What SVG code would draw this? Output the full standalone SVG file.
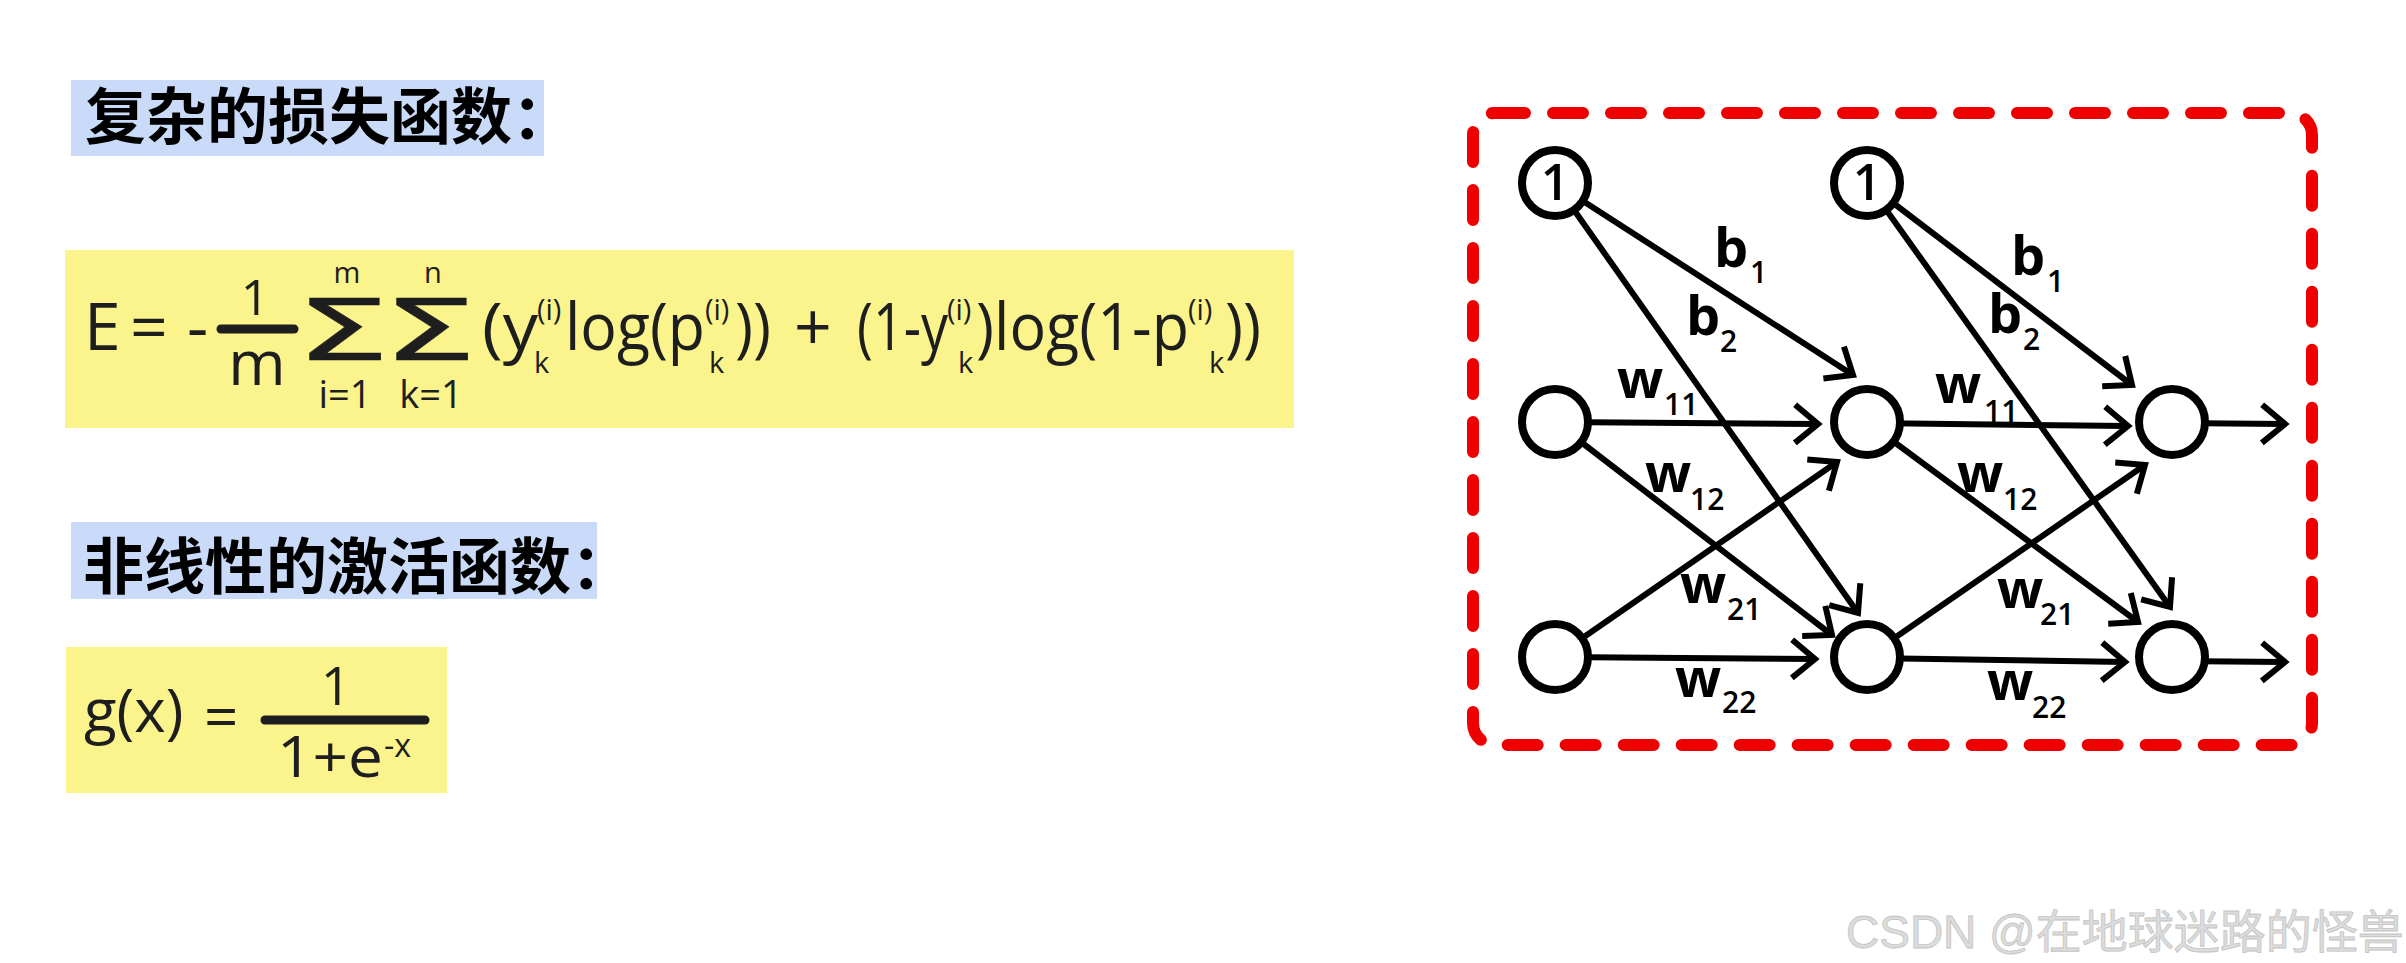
<svg xmlns="http://www.w3.org/2000/svg" width="2406" height="963" viewBox="0 0 2406 963">
<style>
.title{font-family:"Noto Sans CJK SC","Noto Sans",sans-serif;font-weight:700;font-size:61px;fill:#000}
.f{font-family:"Open Sans","Liberation Sans",sans-serif;fill:#1e1e1e}
.sig{font-family:"DejaVu Sans","Liberation Sans",sans-serif;font-size:86px;fill:#1e1e1e}
.m{font-size:66px}
.s{font-size:29px}
.lim{font-size:38px}
.lbl{font-family:"Open Sans","Liberation Sans",sans-serif;font-weight:700;font-size:54px;fill:#000}
.sub{font-family:"Open Sans","Liberation Sans",sans-serif;font-weight:600;font-size:30px;fill:#000}
.node{fill:#fff;stroke:#000;stroke-width:8}
.one{font-family:"Open Sans","Liberation Sans",sans-serif;font-weight:600;font-size:50px;fill:#000;text-anchor:middle}
.edge{stroke:#000;stroke-width:6;fill:none;marker-end:url(#arr)}
.wm{font-family:"Liberation Sans","Noto Sans CJK SC",sans-serif;font-size:46px;fill:#dcdcdc;stroke:#c4c4c4;stroke-width:0.8}
</style>
<defs>
<marker id="arr" markerUnits="userSpaceOnUse" viewBox="-30 -26 36 52" refX="0" refY="0" markerWidth="36" markerHeight="52" orient="auto" overflow="visible">
<path d="M-23,-19 L0,0 L-23,19" fill="none" stroke="#000" stroke-width="6"/>
</marker>
</defs>
<rect width="2406" height="963" fill="#fff"/>

<g id="title-loss">
<rect x="71" y="80" width="473" height="76" fill="#c9dbf8"/>
<text class="title" x="85" y="139">复杂的损失函数：</text>
</g>

<g id="formula-loss">
<rect x="65" y="250" width="1229" height="178" fill="#fbf38b"/>
<text class="f m" x="84" y="350">E</text>
<text class="f m" x="130" y="350">=</text>
<text class="f m" x="187" y="350">-</text>
<text class="f" x="255" y="315" font-size="50" text-anchor="middle">1</text>
<line x1="221" y1="329" x2="294" y2="329" stroke="#1e1e1e" stroke-width="9" stroke-linecap="round"/>
<text class="f" x="257" y="385" font-size="62" text-anchor="middle">m</text>
<g transform="translate(295,360) scale(1.75,1)"><text class="sig" x="0" y="0" stroke="#1e1e1e" stroke-width="0.5">Σ</text></g>
<text class="f s" x="347" y="283" text-anchor="middle">m</text>
<text class="f lim" x="345" y="408" text-anchor="middle">i=1</text>
<g transform="translate(382,360) scale(1.75,1)"><text class="sig" x="0" y="0" stroke="#1e1e1e" stroke-width="0.5">Σ</text></g>
<text class="f s" x="433" y="283" text-anchor="middle">n</text>
<text class="f lim" x="431" y="408" text-anchor="middle">k=1</text>
<text class="f m" x="482" y="350" textLength="56" lengthAdjust="spacingAndGlyphs">(y</text>
<text class="f s" x="537" y="320">(i)</text>
<text class="f s" x="534" y="373">k</text>
<text class="f m" x="565" y="350" textLength="140" lengthAdjust="spacingAndGlyphs">log(p</text>
<text class="f s" x="705" y="320">(i)</text>
<text class="f s" x="709" y="373">k</text>
<text class="f m" x="735" y="350" textLength="36" lengthAdjust="spacingAndGlyphs">))</text>
<text class="f m" x="794" y="350">+</text>
<text class="f m" x="857" y="350" textLength="91" lengthAdjust="spacingAndGlyphs">(1-y</text>
<text class="f s" x="947" y="320">(i)</text>
<text class="f s" x="958" y="373">k</text>
<text class="f m" x="976" y="350" textLength="213" lengthAdjust="spacingAndGlyphs">)log(1-p</text>
<text class="f s" x="1188" y="320">(i)</text>
<text class="f s" x="1209" y="373">k</text>
<text class="f m" x="1225" y="350" textLength="36" lengthAdjust="spacingAndGlyphs">))</text>
</g>

<g id="title-activation">
<rect x="71" y="522" width="526" height="77" fill="#c9dbf8"/>
<text class="title" x="83" y="589">非线性的激活函数：</text>
</g>

<g id="formula-sigmoid">
<rect x="66" y="647" width="381" height="146" fill="#fbf38b"/>
<text class="f" x="84" y="732" font-size="60">g(x)</text>
<text class="f" x="204" y="738" font-size="60">=</text>
<text class="f" x="336" y="705" font-size="53" text-anchor="middle">1</text>
<line x1="265" y1="720" x2="425" y2="720" stroke="#1e1e1e" stroke-width="9" stroke-linecap="round"/>
<text class="f" x="277" y="777" font-size="57" textLength="106" lengthAdjust="spacingAndGlyphs">1+e</text>
<text class="f" x="384" y="757" font-size="32">-x</text>
</g>

<g id="network">
<rect id="frame" x="1473" y="113" width="839" height="632" rx="22" fill="none" stroke="#ee0000" stroke-width="12" stroke-dasharray="30 28" stroke-linecap="round"/>

<g id="connectors">
<line class="edge" x1="1555" y1="183" x2="1853" y2="375"/>
<line class="edge" x1="1555" y1="183" x2="1858" y2="613"/>
<line class="edge" x1="1555" y1="422" x2="1818" y2="424"/>
<line class="edge" x1="1555" y1="422" x2="1832" y2="635"/>
<line class="edge" x1="1555" y1="657" x2="1837" y2="462"/>
<line class="edge" x1="1555" y1="657" x2="1815" y2="659"/>
<line class="edge" x1="1867" y1="183" x2="2132" y2="385"/>
<line class="edge" x1="1867" y1="183" x2="2170" y2="607"/>
<line class="edge" x1="1867" y1="423" x2="2128" y2="426"/>
<line class="edge" x1="1867" y1="422" x2="2138" y2="622"/>
<line class="edge" x1="1867" y1="657" x2="2145" y2="465"/>
<line class="edge" x1="1867" y1="658" x2="2125" y2="662"/>
<line class="edge" x1="2172" y1="423" x2="2285" y2="424"/>
<line class="edge" x1="2172" y1="661" x2="2285" y2="662"/>
</g>

<g id="labels">
<text class="lbl" x="1714" y="267">b</text><text class="sub" x="1750" y="283">1</text>
<text class="lbl" x="1686" y="335">b</text><text class="sub" x="1720" y="352">2</text>
<text class="lbl" x="1617" y="398">w</text><text class="sub" x="1664" y="415">11</text>
<text class="lbl" x="1645" y="492">w</text><text class="sub" x="1690" y="510">12</text>
<text class="lbl" x="1680" y="603">w</text><text class="sub" x="1727" y="620">21</text>
<text class="lbl" x="1675" y="697">w</text><text class="sub" x="1722" y="713">22</text>
<text class="lbl" x="2011" y="275">b</text><text class="sub" x="2047" y="292">1</text>
<text class="lbl" x="1988" y="333">b</text><text class="sub" x="2023" y="350">2</text>
<text class="lbl" x="1935" y="403">w</text><text class="sub" x="1984" y="422">11</text>
<text class="lbl" x="1957" y="492">w</text><text class="sub" x="2003" y="510">12</text>
<text class="lbl" x="1997" y="608">w</text><text class="sub" x="2040" y="625">21</text>
<text class="lbl" x="1987" y="700">w</text><text class="sub" x="2032" y="718">22</text>
</g>

<g id="bias1"><circle class="node" cx="1555" cy="183" r="33"/><text class="one" x="1555" y="200">1</text></g>
<g id="input1"><circle class="node" cx="1555" cy="422" r="33"/></g>
<g id="input2"><circle class="node" cx="1555" cy="657" r="33"/></g>
<g id="bias2"><circle class="node" cx="1867" cy="183" r="33"/><text class="one" x="1867" y="200">1</text></g>
<g id="hidden1"><circle class="node" cx="1867" cy="422" r="33"/></g>
<g id="hidden2"><circle class="node" cx="1867" cy="657" r="33"/></g>
<g id="output1"><circle class="node" cx="2172" cy="422" r="33"/></g>
<g id="output2"><circle class="node" cx="2172" cy="657" r="33"/></g>
</g>

<text class="wm" x="1846" y="948">CSDN @在地球迷路的怪兽</text>
</svg>
